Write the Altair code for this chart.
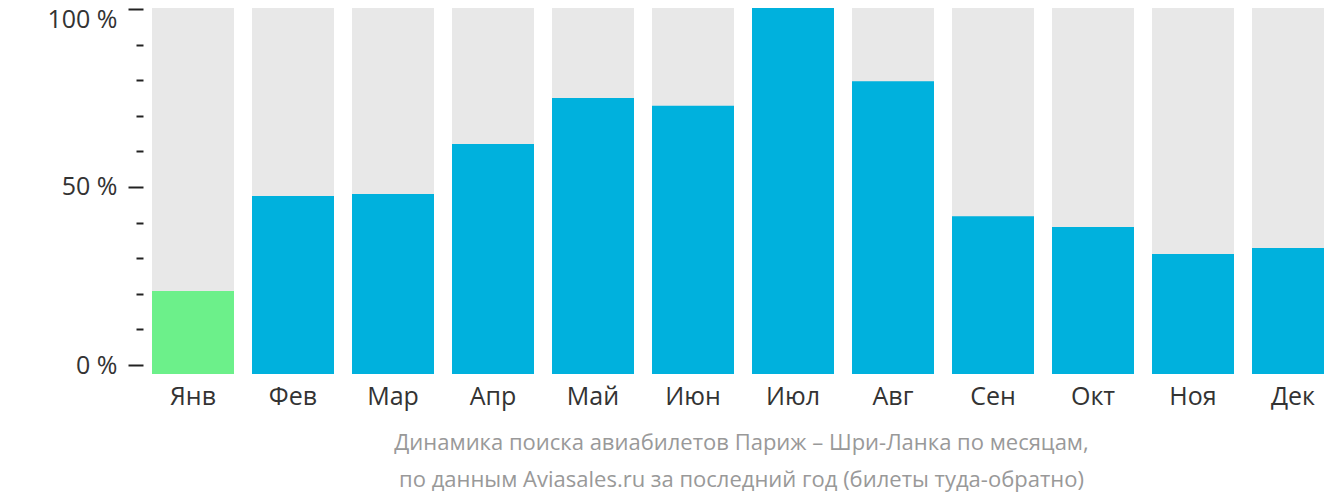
import altair as alt
import pandas as pd

months = ["Янв", "Фев", "Мар", "Апр", "Май", "Июн", "Июл", "Авг", "Сен", "Окт", "Ноя", "Дек"]
values = [22.2, 47.6, 48.1, 61.5, 73.8, 71.7, 100.0, 78.3, 42.2, 39.3, 32.1, 33.7]
highlight = [True] + [False] * 11
tick_values = [0, 10, 20, 30, 40, 50, 60, 70, 80, 90, 100]
title_lines = [
    "Динамика поиска авиабилетов Париж – Шри-Ланка по месяцам,",
    "по данным Aviasales.ru за последний год (билеты туда-обратно)",
]

df = pd.DataFrame({"month": months, "value": values, "low": highlight, "full": [100.0] * 12})
ticks_df = pd.DataFrame({"t": tick_values})

FONT = "Open Sans"
xscale = alt.Scale(domain=months, range=[0, 1200], paddingInner=0.18, paddingOuter=0.09)
bar_y = alt.Scale(domain=[0, 97.86], clamp=False, nice=False, zero=False)

xaxis = alt.Axis(
    title=None, domain=False, ticks=False, labelAngle=0, labelFont=FONT,
    labelFontSize=25, labelColor="#333333", labelPadding=10,
)

axis_layer = alt.Chart(ticks_df).mark_point(opacity=0).encode(
    y=alt.Y("t:Q", scale=alt.Scale(domain=[-2.528, 100.28], nice=False, zero=False),
            axis=alt.Axis(
                values=tick_values, title=None, domain=False, grid=False,
                labelExpr="datum.value % 50 === 0 ? datum.value + ' %' : ''",
                tickSize={"condition": {"test": "datum.value % 50 === 0", "value": 15}, "value": 7},
                labelOffset={"condition": {"test": "datum.value === 100", "value": 11}, "value": 0},
                tickWidth=2, tickColor="#222222",
                labelFont=FONT, labelFontSize=25, labelColor="#333333", labelPadding=11,
            )),
)

bg = alt.Chart(df).mark_bar(color="#e8e8e8", clip=False).encode(
    x=alt.X("month:N", sort=months, scale=xscale, axis=xaxis),
    y=alt.Y("full:Q", scale=bar_y, axis=None),
)

fg = alt.Chart(df).mark_bar(clip=False).encode(
    x=alt.X("month:N", sort=months, scale=xscale, axis=xaxis),
    y=alt.Y("value:Q", scale=bar_y, axis=None),
    color=alt.Color("low:N", scale=alt.Scale(domain=[True, False], range=["#6cf08a", "#00b1dd"]), legend=None),
)

chart = alt.layer(axis_layer, bg, fg).resolve_scale(y="independent").properties(
    width=1181,
    height=366,
    autosize=alt.AutoSizeParams(type="none"),
    padding={"left": 135, "top": 0, "right": 0, "bottom": 120},
    title=alt.TitleParams(
        text=title_lines, orient="bottom", anchor="middle", dx=8, offset=24,
        font=FONT, fontSize=22, fontWeight="normal", color="#999999", lineHeight=37,
    ),
).configure_view(stroke=None)

chart.save("out.html", embed_options={"renderer": "svg", "actions": False})
